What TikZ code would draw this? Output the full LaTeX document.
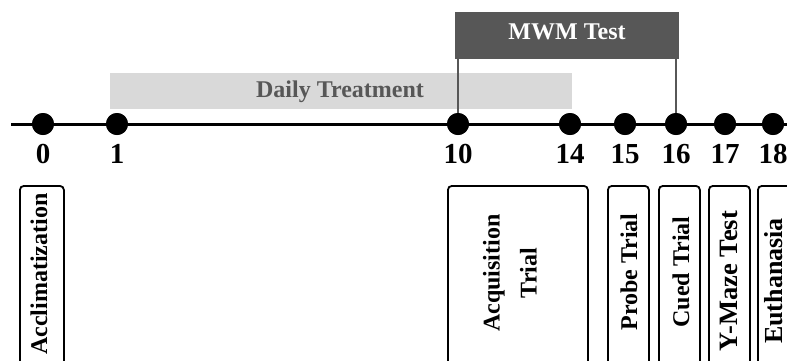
\documentclass[tikz,border=0pt]{standalone}
\usepackage{fontspec}
\setmainfont{Liberation Serif}
\definecolor{lgray}{HTML}{D9D9D9}
\definecolor{dgray}{HTML}{575757}
\begin{document}
\begin{tikzpicture}[x=1pt,y=-1pt,
  dot/.style={circle,fill=black,inner sep=0pt,minimum size=22pt},
  num/.style={font=\fontsize{29}{30}\selectfont\bfseries,anchor=base,inner sep=0pt},
  phase/.style={draw=black,line width=1.8pt,rounded corners=4pt,inner sep=0pt},
  vtext/.style={rotate=90,font=\fontsize{24}{37}\selectfont\bfseries,align=center,inner sep=0pt,anchor=base},
  bartext/.style={font=\fontsize{24}{29}\selectfont\bfseries,anchor=base,inner sep=0pt},
  link/.style={draw=dgray,line width=2pt}]
\useasboundingbox (0,0) rectangle (787,360);
\clip (0,0) rectangle (787,360);
% bars
\node[fill=lgray,minimum width=462pt,minimum height=36pt,inner sep=0pt] (daily) at (341,91) {};
\node[bartext,text=dgray] (dailytext) at (340,97) {Daily Treatment};
\node[fill=dgray,minimum width=224pt,minimum height=47pt,inner sep=0pt] (mwm) at (567,35.5) {};
\node[bartext,text=white] (mwmtext) at (567,39) {MWM Test};
% timeline
\coordinate (tstart) at (11,124);
\coordinate (tend) at (790,124);
\node[dot] (d0) at (43,124) {};
\node[dot] (d1) at (117,124) {};
\node[dot] (d10) at (458,124) {};
\node[dot] (d14) at (570,124) {};
\node[dot] (d15) at (625,124) {};
\node[dot] (d16) at (676,124) {};
\node[dot] (d17) at (725,124) {};
\node[dot] (d18) at (773,124) {};
\draw[link] (mwm.south -| d10) -- (d10.center);
\draw[link] (mwm.south -| d16) -- (d16.center);
\draw[line width=3pt] (tstart) -- (tend);
\foreach \n in {0,1,10,14,15,16,17,18}{
  \node[dot] at (d\n) {};
  \node[num] (l\n) at ([yshift=-39pt]d\n.center) {\n};
}
% phase boxes
\node[phase,minimum width=44pt,minimum height=190pt,anchor=north west] (acc) at (19,185) {};
\node[phase,minimum width=140pt,minimum height=190pt,anchor=north west] (acq) at (447,185) {};
\node[phase,minimum width=41pt,minimum height=190pt,anchor=north west] (probe) at (607,185) {};
\node[phase,minimum width=41pt,minimum height=190pt,anchor=north west] (cued) at (658,185) {};
\node[phase,minimum width=41pt,minimum height=190pt,anchor=north west] (ymaze) at (708,185) {};
\node[phase,minimum width=60pt,minimum height=190pt,anchor=north west] (euth) at (757,185) {};
\node[vtext] (acctext) at (47,274) {Acclimatization};
\node[vtext,anchor=center] (acqtext) at (510,273) {Acquisition\\Trial};
\node[vtext] (probetext) at (637,272) {Probe Trial};
\node[vtext] (cuedtext) at (689,272) {Cued Trial};
\node[vtext,font=\fontsize{26.5}{30}\selectfont\bfseries] (ymazetext) at (737,281) {Y-Maze Test};
\node[vtext,font=\fontsize{26}{30}\selectfont\bfseries] (euthtext) at (782,281) {Euthanasia};
\end{tikzpicture}
\end{document}
